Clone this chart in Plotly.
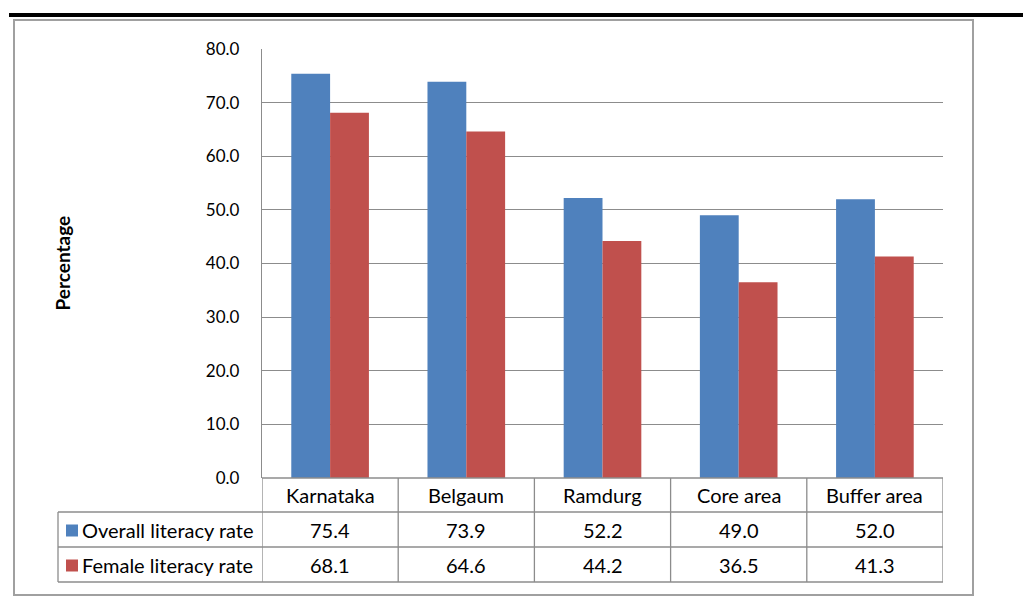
import plotly.graph_objects as go

# Literacy rates (%) by area
categories = ["Karnataka", "Belgaum", "Ramdurg", "Core area", "Buffer area"]
overall_rate = [75.4, 73.9, 52.2, 49.0, 52.0]
female_rate = [68.1, 64.6, 44.2, 36.5, 41.3]
series_names = ["Overall literacy rate", "Female literacy rate"]
y_ticks = [0, 10, 20, 30, 40, 50, 60, 70, 80]

BLUE = "#4F81BD"
RED = "#C0504D"
GRID = "#8C8C8C"
FONT = "Lato"

W, H = 1023, 597
L, R, T, B = 262, 80, 49, 119
PH = H - T - B
PW = W - L - R


def py(p):
    """pixel row -> paper y"""
    return (H - B - p) / PH


def px(p):
    """pixel column -> paper x"""
    return (p - L) / PW


fig = go.Figure()
fig.add_trace(go.Bar(x=categories, y=overall_rate, name=series_names[0],
                     marker=dict(color=BLUE, line=dict(width=0))))
fig.add_trace(go.Bar(x=categories, y=female_rate, name=series_names[1],
                     marker=dict(color=RED, line=dict(width=0))))

shapes = []
# heavy rule above the figure frame
shapes.append(dict(type="line", xref="paper", yref="paper",
                   x0=px(9), x1=px(1023), y0=py(15), y1=py(15),
                   line=dict(color="black", width=4)))
# chart frame
shapes.append(dict(type="rect", xref="paper", yref="paper",
                   x0=px(14), x1=px(973), y0=py(20), y1=py(595),
                   line=dict(color="#A0A0A0", width=2)))

# data table under the plot
row_px = [478, 512, 547, 582]
n = len(categories)
for yy in row_px:
    shapes.append(dict(type="line", xref="x", yref="paper",
                       x0=-0.5, x1=n - 0.5, y0=py(yy), y1=py(yy),
                       line=dict(color=GRID, width=1.3)))
for i in range(n + 1):
    shapes.append(dict(type="line", xref="x", yref="paper",
                       x0=i - 0.5, x1=i - 0.5, y0=py(row_px[0]), y1=py(row_px[-1]),
                       line=dict(color=GRID, width=1.3)))
# row header column
for yy in row_px[1:]:
    shapes.append(dict(type="line", xref="paper", yref="paper",
                       x0=px(58), x1=0, y0=py(yy), y1=py(yy),
                       line=dict(color=GRID, width=1.3)))
shapes.append(dict(type="line", xref="paper", yref="paper",
                   x0=px(58), x1=px(58), y0=py(row_px[1]), y1=py(row_px[-1]),
                   line=dict(color=GRID, width=1.3)))

annotations = []
text_font = dict(family=FONT, size=20, color="black")
for i, c in enumerate(categories):
    annotations.append(dict(x=c, y=py((row_px[0] + row_px[1]) / 2), xref="x", yref="paper",
                            xanchor="center", yanchor="middle",
                            text=c, showarrow=False, font=text_font))
for r, (vals, name, col) in enumerate(zip([overall_rate, female_rate], series_names, [BLUE, RED])):
    yc = (row_px[r + 1] + row_px[r + 2]) / 2
    for c, v in zip(categories, vals):
        annotations.append(dict(x=c, y=py(yc), xref="x", yref="paper",
                                xanchor="center", yanchor="middle",
                                text=f"{v:.1f}", showarrow=False, font=text_font))
    # legend key
    shapes.append(dict(type="rect", xref="paper", yref="paper",
                       x0=px(66), x1=px(78), y0=py(yc - 5), y1=py(yc + 7),
                       fillcolor=col, line=dict(width=0)))
    annotations.append(dict(x=px(80), y=py(yc), xref="paper", yref="paper",
                            xanchor="left", yanchor="middle",
                            text=name, showarrow=False, font=text_font))

# axis title
annotations.append(dict(x=px(62), y=0.5, xref="paper", yref="paper", text="<b>Percentage</b>",
                        textangle=-90, showarrow=False, xanchor="center", yanchor="middle",
                        font=dict(family=FONT, size=19, color="black")))

fig.update_layout(
    width=W, height=H,
    margin=dict(l=L, r=R, t=T, b=B, pad=0),
    paper_bgcolor="white", plot_bgcolor="white",
    barmode="group", bargap=0.43, bargroupgap=0,
    showlegend=False,
    shapes=shapes, annotations=annotations,
    font=dict(family=FONT, size=17, color="black"),
    xaxis=dict(showticklabels=False, showgrid=False, zeroline=False,
               showline=False, range=[-0.5, n - 0.5], fixedrange=True),
    yaxis=dict(range=[0, 80], tickvals=y_ticks, ticktext=[f"{t:.1f}" for t in y_ticks],
               showgrid=True, gridcolor=GRID, gridwidth=1.3, zeroline=False,
               showline=True, linecolor=GRID, linewidth=1.3,
               ticks="", ticklabelstandoff=18,
               tickfont=dict(family=FONT, size=17, color="black")),
)

fig.write_html("out.html")
